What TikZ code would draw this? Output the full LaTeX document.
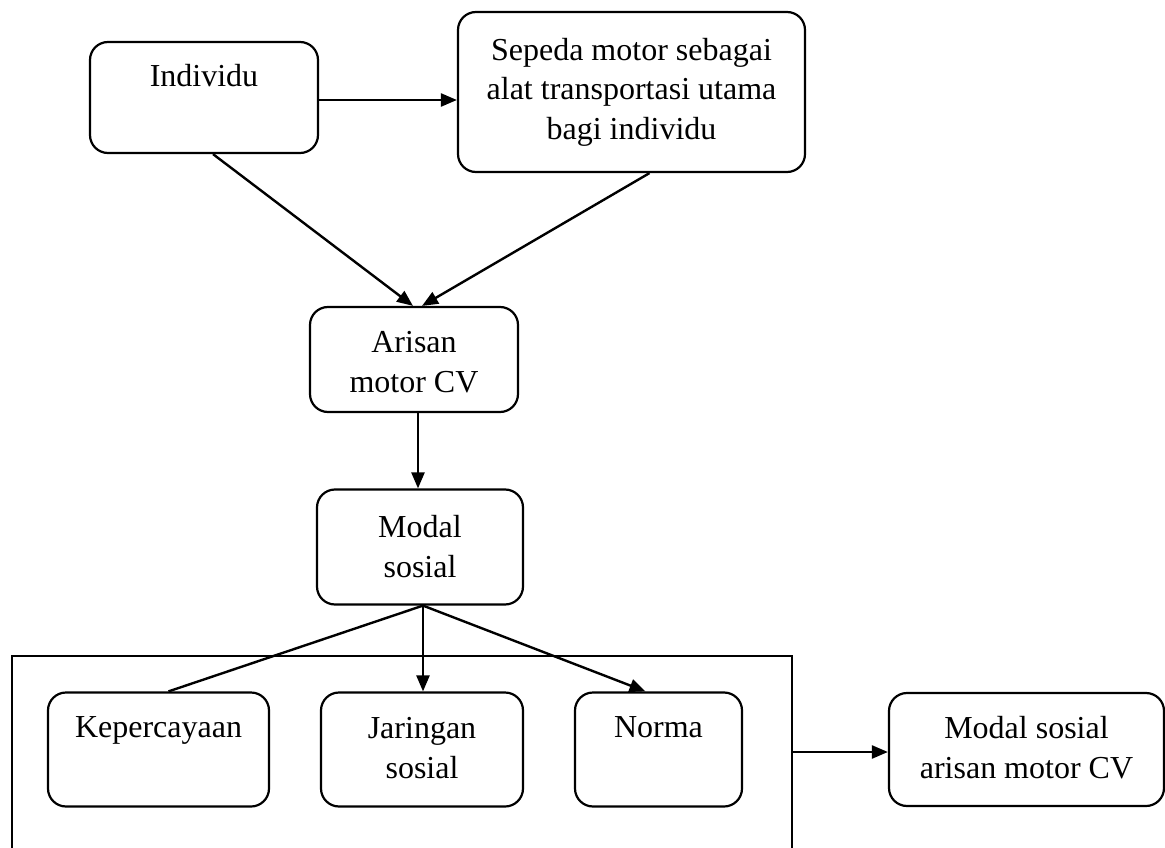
\documentclass[tikz,border=0pt]{standalone}
\usepackage{fontspec}
\setmainfont{Liberation Serif}
\usetikzlibrary{arrows.meta}
\tikzset{
  box/.style={draw, line width=2.2pt, rounded corners=18pt, inner sep=0pt},
  txt/.style={anchor=base, align=center, inner sep=0pt, font=\fontsize{32}{40}\selectfont},
  conn/.style={line width=2.4pt, -{Triangle[length=16pt,width=13pt]}},
  plain/.style={line width=2.4pt}
}
\begin{document}
\begin{tikzpicture}[x=1pt,y=-1pt]
\useasboundingbox (0,0) rectangle (1165,848);
% boxes (text anchored at the baseline of its last line)
\node[box, minimum width=228pt, minimum height=111pt] (ind) at (204,97.5) {};
\node[txt] at (204,87) {Individu};
\node[box, minimum width=347pt, minimum height=160pt] (sep) at (631.5,92) {};
\node[txt] at (631.5,140) {Sepeda motor sebagai\\alat transportasi utama\\bagi individu};
\node[box, minimum width=208pt, minimum height=105pt] (ar) at (414,359.5) {};
\node[txt] at (414,392) {Arisan\\motor CV};
\node[box, minimum width=206pt, minimum height=115pt] (mod) at (420,547) {};
\node[txt] at (420,577) {Modal\\sosial};
\node[box, minimum width=221pt, minimum height=114pt] (kep) at (158.5,749.5) {};
\node[txt] at (158.5,737) {Kepercayaan};
\node[box, minimum width=202pt, minimum height=114pt] (jar) at (422,749.5) {};
\node[txt] at (422,778) {Jaringan\\sosial};
\node[box, minimum width=167pt, minimum height=114pt] (nor) at (658.5,749.5) {};
\node[txt] at (658.5,737) {Norma};
\node[box, minimum width=275pt, minimum height=113pt] (msa) at (1026.5,749.5) {};
\node[txt] at (1026.5,778) {Modal sosial\\arisan motor CV};
% group frame
\draw[line width=2pt] (12,848) -- (12,656) -- (792,656) -- (792,848);
\coordinate (frameR) at (792,752);
% connectors
\draw[conn] ([yshift=-2.5pt]ind.east) -- ([yshift=-2.5pt]sep.west |- ind.east);
\draw[conn] ([xshift=9pt]ind.south) -- ([xshift=-1pt]ar.north);
\draw[conn] ([xshift=18pt]sep.south) -- ([xshift=8pt]ar.north);
\draw[conn] ([xshift=4pt]ar.south) -- ([xshift=-2pt]mod.north);
\draw[plain] ([xshift=3pt]mod.south) -- ([xshift=10pt]kep.north);
\draw[conn] ([xshift=3pt]mod.south) -- ([xshift=1pt]jar.north);
\draw[conn] ([xshift=3pt]mod.south) -- ([xshift=-13pt]nor.north);
\draw[conn] (frameR) -- (frameR -| msa.west);
\end{tikzpicture}
\end{document}
